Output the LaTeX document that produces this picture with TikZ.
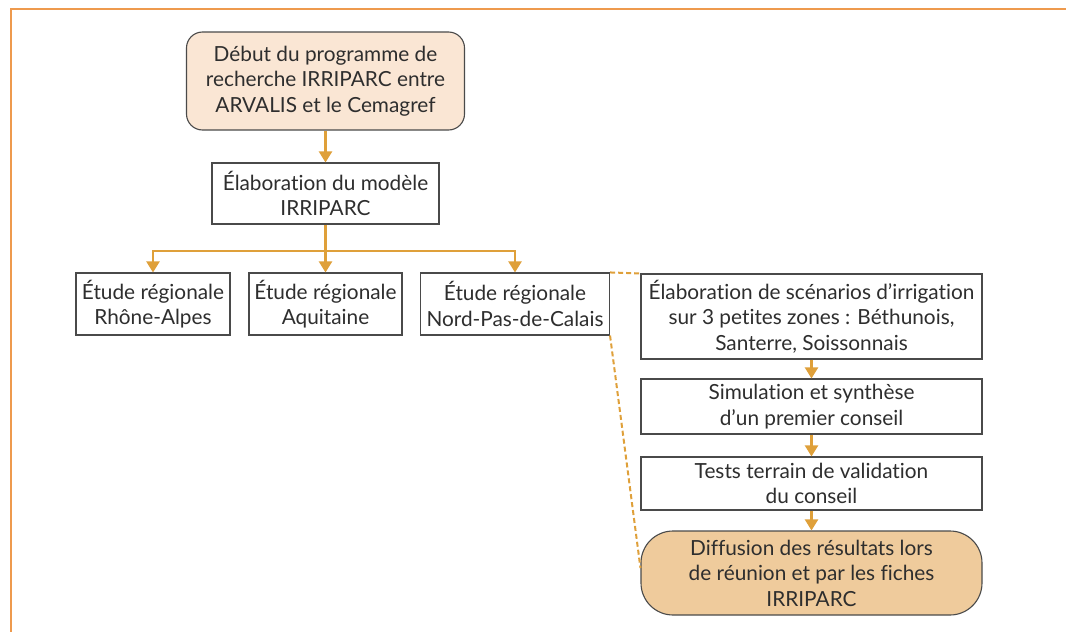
\documentclass[tikz,border=0pt]{standalone}
\usepackage{fontspec}
\setmainfont{Lato}[Ligatures={NoCommon}]
\usetikzlibrary{arrows.meta,calc}
\definecolor{framec}{HTML}{EE9A4D}
\definecolor{arrc}{HTML}{DFA03A}
\definecolor{startfill}{HTML}{FAE6D4}
\definecolor{endfill}{HTML}{EFCB9C}
\definecolor{edgec}{HTML}{4A4A4A}
\definecolor{textc}{HTML}{2E2E2E}
\tikzset{
  txt/.style={font=\fontsize{20.8}{25.5}\selectfont, text=textc, align=center, inner sep=0pt},
  plainbox/.style={txt, draw=edgec, line width=1.1pt, fill=white},
  startbox/.style={plainbox, fill=startfill, rounded corners=16pt},
  endbox/.style={plainbox, fill=endfill, rounded corners=32pt},
  flow/.style={draw=arrc, line width=2.2pt, -{Triangle[width=13pt,length=11pt]}},
  flowplain/.style={draw=arrc, line width=2.2pt},
  link/.style={draw=arrc, line width=2pt, dash pattern=on 5pt off 3pt},
  framel/.style={draw=framec, line width=2pt}
}
\begin{document}
\begin{tikzpicture}[x=1pt,y=-1pt]
\useasboundingbox (0,0) rectangle (1066,632);
\coordinate (fa) at (11,632);
\coordinate (fb) at (11,9);
\coordinate (fc) at (1066,9);
\draw[framel] (fa) -- (fb) -- (fc);

\node[startbox, minimum width=278pt, minimum height=98pt] (top) at (325.5,81) {Début du programme de\\recherche IRRIPARC entre\\ARVALIS et le Cemagref};
\node[plainbox, minimum width=227pt, minimum height=61pt] (elab) at (325.5,193.5) {Élaboration du modèle\\IRRIPARC};
\node[plainbox, minimum width=154pt, minimum height=62pt] (ra) at (153,304) {Étude régionale\\Rhône-Alpes};
\node[plainbox, minimum width=153pt, minimum height=62pt] (aq) at (325.5,304) {Étude régionale\\Aquitaine};
\node[plainbox, minimum width=189pt, minimum height=62pt] (np) at (515,304) {Étude régionale\\Nord-Pas-de-Calais};
\node[plainbox, minimum width=341pt, minimum height=85pt] (s1) at (811.5,316.5) {Élaboration de scénarios d’irrigation\\sur 3 petites zones : Béthunois,\\Santerre, Soissonnais};
\node[plainbox, minimum width=341pt, minimum height=55pt] (s2) at (811.5,406.5) {Simulation et synthèse\\d’un premier conseil};
\node[plainbox, minimum width=341pt, minimum height=53pt] (s3) at (811.5,483.5) {Tests terrain de validation\\du conseil};
\node[endbox, minimum width=341pt, minimum height=84pt] (fin) at (811.5,573) {Diffusion des résultats lors\\de réunion et par les fiches\\IRRIPARC};

\coordinate (fork) at (325.5,251);
\draw[flow] (top) -- (elab);
\draw[flowplain] (elab.south) -- (fork);
\draw[flow] (fork) -| (ra.north);
\draw[flow] (fork) -- (aq.north);
\draw[flow] (fork) -| (np.north);
\draw[flow] (s1) -- (s2);
\draw[flow] (s2) -- (s3);
\draw[flow] (s3) -- (fin);
\coordinate (dend) at ([yshift=5pt]fin.west);
\draw[link] (np.north east) -- (s1.north west);
\draw[link] (np.south east) -- (dend);
\end{tikzpicture}
\end{document}
